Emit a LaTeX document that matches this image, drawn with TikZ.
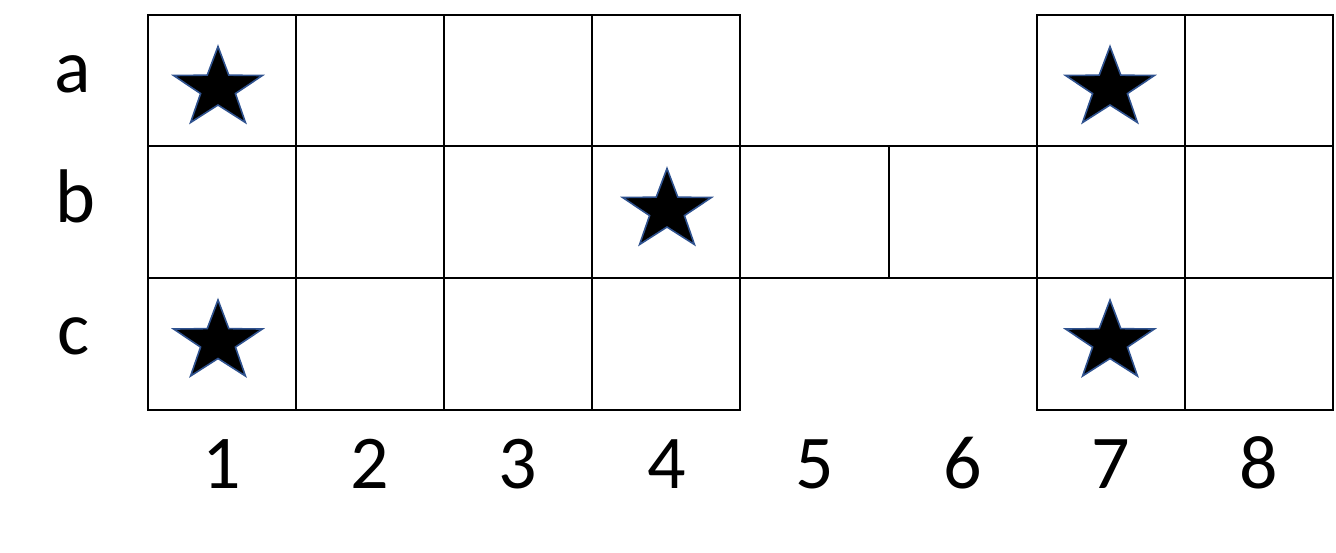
\documentclass[tikz,border=0pt]{standalone}
\usepackage{fontspec}
\setmainfont{Carlito}
\definecolor{starline}{HTML}{2F528F}
\begin{document}
\begin{tikzpicture}[x=1pt,y=-1pt,
  cellbox/.style={draw=black,line width=2pt},
  lbl/.style={anchor=base,inner sep=0pt,font=\fontsize{76}{90}\selectfont},
  starpic/.pic={\fill[black,draw=starline,line width=1.6pt,line join=miter,xscale=1.11,yscale=-1]
     (90:42) -- (126:16.5) -- (162:42) -- (198:16.5) -- (234:42) -- (270:16.5)
     -- (306:42) -- (342:16.5) -- (18:42) -- (54:16.5) -- cycle;}
]
\useasboundingbox (0,0) rectangle (1336,553);
% cell rows
\foreach \c in {1,2,3,4,7,8}{
  \pgfmathsetmacro{\xl}{148+(\c-1)*148.1}
  \pgfmathsetmacro{\xr}{148+\c*148.1}
  \draw[cellbox] (\xl,15) rectangle (\xr,146.5);
  \draw[cellbox] (\xl,278) rectangle (\xr,409.5);
}
\foreach \c in {1,...,8}{
  \pgfmathsetmacro{\xl}{148+(\c-1)*148.1}
  \pgfmathsetmacro{\xr}{148+\c*148.1}
  \draw[cellbox] (\xl,146.5) rectangle (\xr,278);
}
% stars
\pic at (218,88.5) {starpic};
\pic at (1110,88.5) {starpic};
\pic at (667,210.5) {starpic};
\pic at (218,342) {starpic};
\pic at (1110,342) {starpic};
% row labels
\node[lbl] (ra) at (73,93) {a};
\node[lbl] (rb) at (75,223) {b};
\node[lbl] (rc) at (74,355) {c};
% column labels
\foreach \c in {1,...,8}{
  \pgfmathsetmacro{\xc}{148+(\c-0.5)*148.1}
  \node[lbl] (col\c) at (\xc,488) {\c};
}
\end{tikzpicture}
\end{document}
